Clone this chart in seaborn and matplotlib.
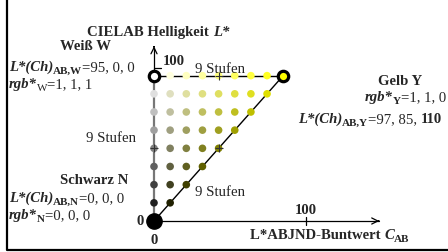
"""CIELAB lightness / chroma triangle: white, yellow, black in 9 steps."""

import matplotlib

matplotlib.use("Agg")
import matplotlib.pyplot as plt
import matplotlib.transforms as mtransforms
import pandas as pd
import seaborn as sns
from matplotlib.lines import Line2D

# lightness and chroma steps of the 9-step grid
L_LEVELS = [0, 11.875, 23.75, 35.625, 47.5, 59.375, 71.25, 83.125, 95]
C_LEVELS = [0, 10.625, 21.25, 31.875, 42.5, 53.125, 63.75, 74.375, 85]
AXIS_TICK = 100
X_AXIS_END = 150
Y_AXIS_END = 116

sns.set_style("white")
plt.rcParams["font.family"] = ["Liberation Serif", "DejaVu Serif"]

W, H = 448, 252
fig = plt.figure(figsize=(W / 100, H / 100), dpi=100)
ax = fig.add_axes([0, 0, 1, 1])
# 1.52 px per chroma unit, 1.53 px per lightness unit, origin at (154, 221) px
ax.set_xlim(-154 / 1.52, (W - 154) / 1.52)
ax.set_ylim((221 - H) / 1.53, 221 / 1.53)
ax.axis("off")

n = len(L_LEVELS) - 1
rows = []
for i, L in enumerate(L_LEVELS):
    for j in range(i + 1):
        corner = (i, j) in [(0, 0), (n, 0), (n, n)]
        rows.append(
            {
                "C": C_LEVELS[j],
                "L": L,
                "id": f"{i}-{j}",
                "rgb": (i / n, i / n, (i - j) / n),
                "corner": corner,
            }
        )
df = pd.DataFrame(rows)
dots = df[~df["corner"]]

# axes and triangle edges
ax.plot([0, 0], [0, L_LEVELS[-1]], color="#777777", lw=1.6, zorder=1)
ax.plot([0, 0], [L_LEVELS[-1], Y_AXIS_END - 3], color="black", lw=0.9, zorder=1)
ax.annotate("", xy=(0, Y_AXIS_END), xytext=(0, Y_AXIS_END - 4),
            arrowprops=dict(arrowstyle="->", lw=0.9, mutation_scale=11, color="black"))
ax.plot([0, X_AXIS_END - 2], [0, 0], color="black", lw=0.9, zorder=1)
ax.annotate("", xy=(X_AXIS_END, 0), xytext=(X_AXIS_END - 4, 0),
            arrowprops=dict(arrowstyle="->", lw=0.9, mutation_scale=11, color="black"))
ax.plot([0, C_LEVELS[-1]], [L_LEVELS[-1], L_LEVELS[-1]], color="black", lw=1.0, zorder=1)
ax.plot([0, C_LEVELS[-1]], [0, L_LEVELS[-1]], color="black", lw=1.0, zorder=1)
ax.plot([0, 4.6], [AXIS_TICK, AXIS_TICK], color="black", lw=0.9)
ax.plot([AXIS_TICK, AXIS_TICK], [-2.6, 2.6], color="black", lw=0.9)

sns.scatterplot(
    data=dots, x="C", y="L", hue="id",
    palette=dict(zip(dots["id"], dots["rgb"])),
    s=30, linewidth=0, legend=False, ax=ax, zorder=3,
)

mid = n // 2
ax.plot([0, C_LEVELS[mid], C_LEVELS[mid]], [L_LEVELS[mid], L_LEVELS[-1], L_LEVELS[mid]],
        ls="none", marker="+", ms=6, mew=0.8, color="#333333", zorder=4)

# corner colours
ax.plot(0, L_LEVELS[-1], marker="o", ms=7.5, mfc="white", mec="black", mew=2.3, zorder=5)
ax.plot(C_LEVELS[-1], L_LEVELS[-1], marker="o", ms=7.5, mfc=(1, 1, 0), mec="black", mew=2.3, zorder=5)
ax.plot(0, 0, marker="o", ms=11, mfc="black", mec="black", zorder=5)

# frame lines on the left and bottom
fig.add_artist(Line2D([7 / W, 7 / W, 1], [1, 2 / H, 2 / H], transform=fig.transFigure,
                      color="black", lw=1.6))

PIX = mtransforms.Affine2D().scale(1, -1).translate(0, H)
FS, SUB = 10.6, 8
R = dict(fontsize=FS)
B = dict(fontsize=FS, fontweight="bold")
BI = dict(fontsize=FS, fontweight="bold", fontstyle="italic")
RS = dict(fontsize=SUB, dy=3)
BS = dict(fontsize=SUB, fontweight="bold", dy=3)


def rich(x, y, runs, ha="left"):
    renderer = fig.canvas.get_renderer()
    items = []
    for s, style in runs:
        style = dict(style)
        dy = style.pop("dy", 0)
        t = fig.text(0, 0, s, transform=PIX, va="baseline", ha="left", **style)
        items.append((t, t.get_window_extent(renderer).width, dy))
    total = sum(w for _, w, _ in items)
    cur = {"left": x, "right": x - total, "center": x - total / 2}[ha]
    for t, w, dy in items:
        t.set_position((cur, y + dy))
        cur += w


rich(87, 36, [("CIELAB Helligkeit ", B), ("L*", BI)])
rich(60, 50, [("Weiß W", B)])
rich(9, 71, [("L*(Ch)", BI), ("AB,W", BS), ("=95, 0, 0", R)])
rich(9, 88, [("rgb*", BI), ("W", RS), ("=1, 1, 1", R)])
rich(163, 65, [("100", B)])
rich(195, 73, [("9 Stufen", R)])
rich(400, 85, [("Gelb Y", B)], ha="center")
rich(446, 101, [("rgb*", BI), ("Y", BS), ("=1, 1, 0", R)], ha="right")
rich(442, 123, [("L*(Ch)", BI), ("AB,Y", BS), ("=97, 85, ", R), ("110", B)], ha="right")
rich(86, 142, [("9 Stufen", R)])
rich(60, 184, [("Schwarz N", B)])
rich(9, 202, [("L*(Ch)", BI), ("AB,N", BS), ("=0, 0, 0", R)])
rich(9, 219, [("rgb*", BI), ("N", BS), ("=0, 0, 0", R)])
rich(140, 225, [("0", B)], ha="center")
rich(154, 244, [("0", B)], ha="center")
rich(195, 196, [("9 Stufen", R)])
rich(306, 214, [("100", B)], ha="center")
rich(250, 239, [("L*ABJND-Buntwert ", B), ("C", BI), ("AB", BS)])

fig.savefig("out.png", dpi=100)
plt.close(fig)
